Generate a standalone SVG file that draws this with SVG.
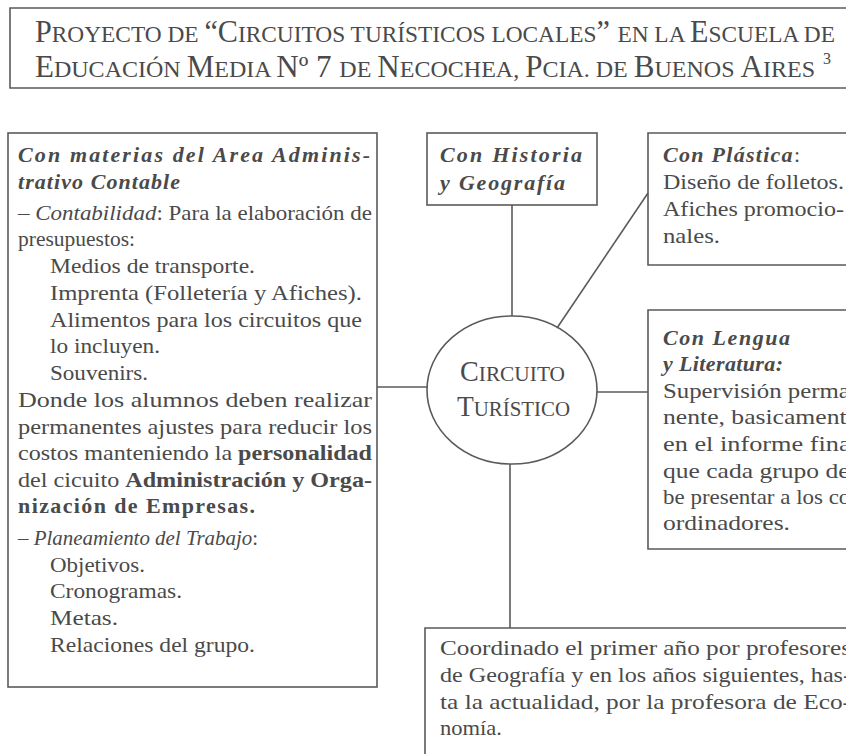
<svg xmlns="http://www.w3.org/2000/svg" width="846" height="754" viewBox="0 0 846 754">
<style>
.t{font-family:"Liberation Serif","DejaVu Serif",serif;font-size:22px;fill:#4a4a4a}
.i{font-style:italic}
.b{font-weight:bold}
.big{font-size:31px}
.s{font-size:24px}
.cb{font-size:29px}
.c{font-size:22px}
.sup{font-size:16px}
.ln{fill:none;stroke:#5a5a5a;stroke-width:1.6}
</style>
<rect width="846" height="754" fill="#ffffff"/>
<g id="title">
<path class="ln" d="M846,8 H10 V88 H846"/>
<text class="t big" x="35" y="42" textLength="800" lengthAdjust="spacingAndGlyphs">P<tspan class="s">ROYECTO DE </tspan>“C<tspan class="s">IRCUITOS TURÍSTICOS LOCALES</tspan>” <tspan class="s">EN LA </tspan>E<tspan class="s">SCUELA DE</tspan></text>
<text class="t big" x="35" y="77" textLength="780" lengthAdjust="spacingAndGlyphs">E<tspan class="s">DUCACIÓN </tspan>M<tspan class="s">EDIA </tspan>Nº 7 <tspan class="s">DE </tspan>N<tspan class="s">ECOCHEA, </tspan>P<tspan class="s">CIA. DE </tspan>B<tspan class="s">UENOS </tspan>A<tspan class="s">IRES</tspan></text>
<text class="t sup" x="823" y="64">3</text>
</g>
<g id="connectors">
<line class="ln" x1="377" y1="387" x2="427" y2="387"/>
<line class="ln" x1="512" y1="205" x2="512" y2="316"/>
<line class="ln" x1="648" y1="193" x2="557" y2="328"/>
<line class="ln" x1="597" y1="392" x2="648" y2="392"/>
<line class="ln" x1="510" y1="464" x2="510" y2="628"/>
</g>
<g id="left-box">
<rect class="ln" x="8" y="133" width="369" height="554"/>
<text class="t i b" x="18" y="162" textLength="352" lengthAdjust="spacing">Con materias del Area Adminis-</text>
<text class="t i b" x="18" y="189" textLength="162" lengthAdjust="spacing">trativo Contable</text>
<text class="t" x="18" y="220" textLength="354" lengthAdjust="spacingAndGlyphs">– <tspan class="i">Contabilidad</tspan>: Para la elaboración de</text>
<text class="t" x="18" y="246" textLength="117" lengthAdjust="spacingAndGlyphs">presupuestos:</text>
<text class="t" x="50" y="273" textLength="205" lengthAdjust="spacingAndGlyphs">Medios de transporte.</text>
<text class="t" x="50" y="300" textLength="312" lengthAdjust="spacingAndGlyphs">Imprenta (Folletería y Afiches).</text>
<text class="t" x="50" y="327" textLength="312" lengthAdjust="spacingAndGlyphs">Alimentos para los circuitos que</text>
<text class="t" x="50" y="353" textLength="110" lengthAdjust="spacingAndGlyphs">lo incluyen.</text>
<text class="t" x="50" y="380" textLength="98" lengthAdjust="spacingAndGlyphs">Souvenirs.</text>
<text class="t" x="18" y="407" textLength="354" lengthAdjust="spacingAndGlyphs">Donde los alumnos deben realizar</text>
<text class="t" x="18" y="434" textLength="354" lengthAdjust="spacingAndGlyphs">permanentes ajustes para reducir los</text>
<text class="t" x="18" y="460" textLength="354" lengthAdjust="spacingAndGlyphs">costos manteniendo la <tspan class="b">personalidad</tspan></text>
<text class="t" x="18" y="487" textLength="354" lengthAdjust="spacingAndGlyphs">del cicuito <tspan class="b">Administración y Orga-</tspan></text>
<text class="t b" x="18" y="513" textLength="237" lengthAdjust="spacing">nización de Empresas.</text>
<text class="t" x="18" y="545" textLength="240" lengthAdjust="spacingAndGlyphs">– <tspan class="i">Planeamiento del Trabajo</tspan>:</text>
<text class="t" x="50" y="572" textLength="95" lengthAdjust="spacingAndGlyphs">Objetivos.</text>
<text class="t" x="50" y="598" textLength="132" lengthAdjust="spacingAndGlyphs">Cronogramas.</text>
<text class="t" x="50" y="625" textLength="68" lengthAdjust="spacingAndGlyphs">Metas.</text>
<text class="t" x="50" y="652" textLength="205" lengthAdjust="spacingAndGlyphs">Relaciones del grupo.</text>
</g>
<g id="historia">
<rect class="ln" x="427" y="133" width="170" height="72"/>
<text class="t i b" x="440" y="162" textLength="142" lengthAdjust="spacing">Con Historia</text>
<text class="t i b" x="440" y="190" textLength="125" lengthAdjust="spacing">y Geografía</text>
</g>
<g id="plastica">
<path class="ln" d="M846,133 H648 V265 H846"/>
<text class="t" x="663" y="162" textLength="137" lengthAdjust="spacing"><tspan class="i b">Con Plástica</tspan>:</text>
<text class="t" x="663" y="189" textLength="181" lengthAdjust="spacingAndGlyphs">Diseño de folletos.</text>
<text class="t" x="663" y="216" textLength="181" lengthAdjust="spacingAndGlyphs">Afiches promocio-</text>
<text class="t" x="663" y="243" textLength="57" lengthAdjust="spacingAndGlyphs">nales.</text>
</g>
<g id="circuito">
<ellipse class="ln" cx="512" cy="390" rx="85" ry="74"/>
<text class="t cb" x="460" y="381" textLength="105" lengthAdjust="spacingAndGlyphs">C<tspan class="c">IRCUITO</tspan></text>
<text class="t cb" x="457" y="416" textLength="113" lengthAdjust="spacingAndGlyphs">T<tspan class="c">URÍSTICO</tspan></text>
</g>
<g id="lengua">
<path class="ln" d="M846,310 H648 V549 H846"/>
<text class="t i b" x="663" y="345" textLength="127" lengthAdjust="spacing">Con Lengua</text>
<text class="t i b" x="663" y="371" textLength="120" lengthAdjust="spacing">y Literatura:</text>
<text class="t" x="663" y="398" textLength="195" lengthAdjust="spacingAndGlyphs">Supervisión perma-</text>
<text class="t" x="663" y="424" textLength="195" lengthAdjust="spacingAndGlyphs">nente, basicamente</text>
<text class="t" x="663" y="451" textLength="195" lengthAdjust="spacingAndGlyphs">en el informe final</text>
<text class="t" x="663" y="478" textLength="195" lengthAdjust="spacingAndGlyphs">que cada grupo de-</text>
<text class="t" x="663" y="504" textLength="195" lengthAdjust="spacingAndGlyphs">be presentar a los co-</text>
<text class="t" x="663" y="530" textLength="127" lengthAdjust="spacingAndGlyphs">ordinadores.</text>
</g>
<g id="coordinado">
<path class="ln" d="M846,628 H425 V754"/>
<text class="t" x="440" y="655" textLength="411" lengthAdjust="spacingAndGlyphs">Coordinado el primer año por profesores</text>
<text class="t" x="440" y="682" textLength="411" lengthAdjust="spacingAndGlyphs">de Geografía y en los años siguientes, has-</text>
<text class="t" x="440" y="709" textLength="411" lengthAdjust="spacingAndGlyphs">ta la actualidad, por la profesora de Eco-</text>
<text class="t" x="440" y="735" textLength="62" lengthAdjust="spacingAndGlyphs">nomía.</text>
</g>
</svg>
